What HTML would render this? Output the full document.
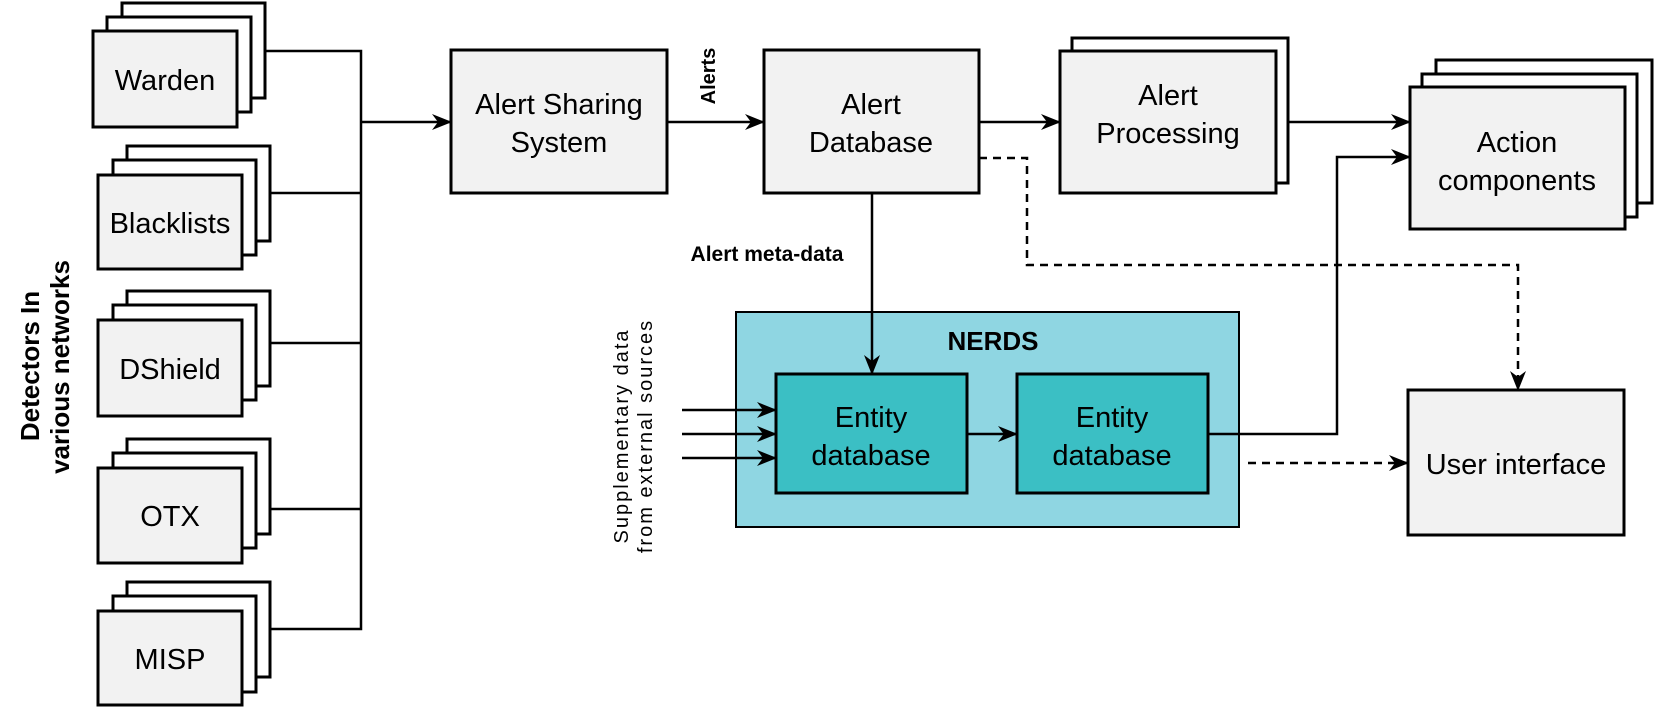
<!DOCTYPE html>
<html><head><meta charset="utf-8"><style>
html,body{margin:0;padding:0;background:#fff;}
svg{display:block;}
text{font-family:"Liberation Sans",Arial,sans-serif;fill:#000;}
</style></head><body>
<svg width="1655" height="710" viewBox="0 0 1655 710" xmlns="http://www.w3.org/2000/svg">
<defs>
<marker id="a" viewBox="0 0 20 20" refX="19" refY="10" markerWidth="20" markerHeight="20" markerUnits="userSpaceOnUse" orient="auto">
<path d="M0,2 L20,10 L0,18 L6,10 Z" fill="#000"/>
</marker>
</defs>
<g stroke="#000" stroke-width="3" fill="#fff">
<rect x="122" y="3" width="143" height="95"/><rect x="107" y="17" width="144" height="95"/><rect x="93" y="31" width="144" height="96" fill="#f2f2f2"/>
<rect x="127" y="146" width="143" height="95"/><rect x="113" y="160" width="143" height="95"/><rect x="98" y="175" width="144" height="94" fill="#f2f2f2"/>
<rect x="127" y="291" width="143" height="95"/><rect x="113" y="305" width="143" height="95"/><rect x="98" y="320" width="144" height="96" fill="#f2f2f2"/>
<rect x="127" y="439" width="143" height="95"/><rect x="113" y="453" width="143" height="95"/><rect x="98" y="468" width="144" height="95" fill="#f2f2f2"/>
<rect x="127" y="582" width="143" height="95"/><rect x="113" y="596" width="143" height="96" fill="#fff"/><rect x="98" y="611" width="144" height="94" fill="#f2f2f2"/>
<rect x="451" y="50" width="216" height="143" fill="#f2f2f2"/>
<rect x="764" y="50" width="215" height="143" fill="#f2f2f2"/>
<rect x="1072" y="38" width="216" height="145"/><rect x="1060" y="51" width="216" height="142" fill="#f2f2f2"/>
<rect x="1436" y="60" width="216" height="143"/><rect x="1422" y="74" width="215" height="143"/><rect x="1410" y="87" width="215" height="142" fill="#f2f2f2"/>
<rect x="1408" y="390" width="216" height="145" fill="#f2f2f2"/>
<rect x="736" y="312" width="503" height="215" fill="#8fd6e2" stroke-width="2"/>
<rect x="776" y="374" width="191" height="119" fill="#3bbfc4"/>
<rect x="1017" y="374" width="191" height="119" fill="#3bbfc4"/>
</g>
<g stroke="#000" stroke-width="2.5" fill="none">
<polyline points="265,51 361,51 361,629 270,629"/>
<line x1="270" y1="193" x2="361" y2="193"/>
<line x1="270" y1="343" x2="361" y2="343"/>
<line x1="270" y1="509" x2="361" y2="509"/>
<line x1="361" y1="122" x2="451" y2="122" marker-end="url(#a)"/>
<line x1="667" y1="122" x2="764" y2="122" marker-end="url(#a)"/>
<line x1="979" y1="122" x2="1060" y2="122" marker-end="url(#a)"/>
<line x1="1288" y1="122" x2="1410" y2="122" marker-end="url(#a)"/>
<polyline points="1208,434 1337,434 1337,157 1410,157" marker-end="url(#a)"/>
<line x1="872" y1="193" x2="872" y2="374" marker-end="url(#a)"/>
<line x1="682" y1="410" x2="776" y2="410" marker-end="url(#a)"/>
<line x1="682" y1="434" x2="776" y2="434" marker-end="url(#a)"/>
<line x1="682" y1="458" x2="776" y2="458" marker-end="url(#a)"/>
<line x1="967" y1="434" x2="1017" y2="434" marker-end="url(#a)"/>
<polyline points="979,158 1027,158 1027,265 1518,265 1518,390" stroke-dasharray="8,6" marker-end="url(#a)"/>
<line x1="1248" y1="463" x2="1408" y2="463" stroke-dasharray="8,6" marker-end="url(#a)"/>
</g>
<g font-size="29" text-anchor="middle">
<text x="165" y="90">Warden</text>
<text x="170" y="233">Blacklists</text>
<text x="170" y="379">DShield</text>
<text x="170" y="526">OTX</text>
<text x="170" y="669">MISP</text>
<text x="559" y="114">Alert Sharing</text>
<text x="559" y="152">System</text>
<text x="871" y="114">Alert</text>
<text x="871" y="152">Database</text>
<text x="1168" y="105">Alert</text>
<text x="1168" y="143">Processing</text>
<text x="1517" y="152">Action</text>
<text x="1517" y="190">components</text>
<text x="1516" y="474">User interface</text>
<text x="871" y="427">Entity</text>
<text x="871" y="465">database</text>
<text x="1112" y="427">Entity</text>
<text x="1112" y="465">database</text>
</g>
<text x="993" y="350" font-size="26" font-weight="bold" text-anchor="middle">NERDS</text>
<text x="767" y="261" font-size="21" font-weight="bold" text-anchor="middle">Alert meta-data</text>
<text transform="translate(715,76) rotate(-90)" font-size="20" font-weight="bold" text-anchor="middle">Alerts</text>
<text transform="translate(39,366) rotate(-90)" font-size="26" font-weight="bold" text-anchor="middle">Detectors In</text>
<text transform="translate(69,367) rotate(-90)" font-size="26" font-weight="bold" text-anchor="middle">various networks</text>
<text transform="translate(628,436) rotate(-90)" font-size="20" text-anchor="middle" letter-spacing="2">Supplementary data</text>
<text transform="translate(652,436) rotate(-90)" font-size="20" text-anchor="middle" letter-spacing="2">from external sources</text>
</svg>
</body></html>
